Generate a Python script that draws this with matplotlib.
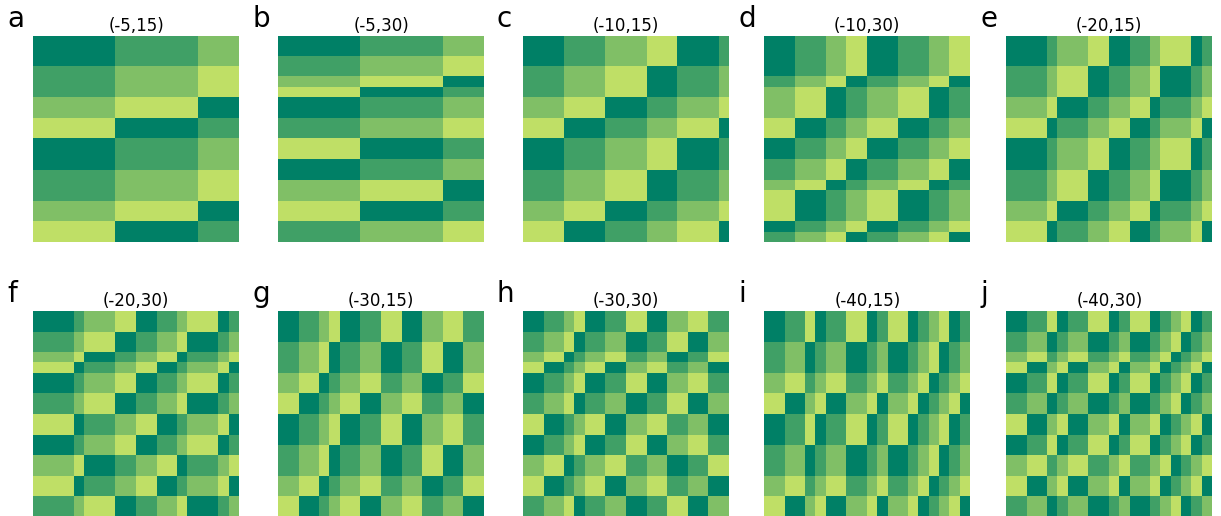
import numpy as np
import matplotlib
matplotlib.use("Agg")
import matplotlib.pyplot as plt
from matplotlib.colors import ListedColormap

# ---- data (20 x 20 coding grid per panel) ----
panel_letters = ["a", "b", "c", "d", "e", "f", "g", "h", "i", "j"]
panel_titles = ["(-5,15)", "(-5,30)", "(-10,15)", "(-10,30)", "(-20,15)",
                "(-20,30)", "(-30,15)", "(-30,30)", "(-40,15)", "(-40,30)"]

# state of each row (top to bottom) and column (left to right); cell = (row + col) mod 4
rows_a = [0, 0, 0, 1, 1, 1, 2, 2, 3, 3, 0, 0, 0, 1, 1, 1, 2, 2, 3, 3]
cols_a = [0, 0, 0, 0, 0, 0, 0, 0, 1, 1, 1, 1, 1, 1, 1, 1, 2, 2, 2, 2]
rows_b = [0, 0, 1, 1, 2, 3, 0, 0, 1, 1, 3, 3, 0, 0, 2, 2, 3, 3, 1, 1]
cols_b = [0, 0, 0, 0, 0, 0, 0, 0, 1, 1, 1, 1, 1, 1, 1, 1, 2, 2, 2, 2]
rows_c = [0, 0, 0, 1, 1, 1, 2, 2, 3, 3, 0, 0, 0, 1, 1, 1, 2, 2, 3, 3]
cols_c = [0, 0, 0, 0, 1, 1, 1, 1, 2, 2, 2, 2, 3, 3, 3, 0, 0, 0, 0, 1]
rows_d = [0, 0, 0, 0, 1, 2, 2, 2, 3, 3, 0, 0, 1, 1, 2, 3, 3, 3, 0, 1]
cols_d = [0, 0, 0, 1, 1, 1, 2, 2, 3, 3, 0, 0, 0, 1, 1, 1, 2, 2, 3, 3]
rows_e = [0, 0, 0, 1, 1, 1, 2, 2, 3, 3, 0, 0, 0, 1, 1, 1, 2, 2, 3, 3]
cols_e = [0, 0, 0, 0, 1, 2, 2, 2, 3, 3, 0, 0, 1, 1, 2, 3, 3, 3, 0, 1]
rows_f = [0, 0, 1, 1, 2, 3, 0, 0, 1, 1, 3, 3, 0, 0, 2, 2, 3, 3, 1, 1]
cols_f = [0, 0, 0, 0, 1, 2, 2, 2, 3, 3, 0, 0, 1, 1, 2, 3, 3, 3, 0, 1]
rows_g = [0, 0, 0, 1, 1, 1, 2, 2, 3, 3, 0, 0, 0, 1, 1, 1, 2, 2, 3, 3]
cols_g = [0, 0, 1, 1, 2, 3, 0, 0, 1, 1, 3, 3, 0, 0, 2, 2, 3, 3, 1, 1]
rows_h = [0, 0, 1, 1, 2, 3, 0, 0, 1, 1, 3, 3, 0, 0, 2, 2, 3, 3, 1, 1]
cols_h = [0, 0, 1, 1, 2, 3, 0, 0, 1, 1, 3, 3, 0, 0, 2, 2, 3, 3, 1, 1]
rows_i = [0, 0, 0, 1, 1, 1, 2, 2, 3, 3, 0, 0, 0, 1, 1, 1, 2, 2, 3, 3]
cols_i = [0, 0, 1, 1, 3, 0, 1, 1, 3, 3, 0, 1, 3, 3, 0, 1, 2, 3, 0, 1]
rows_j = [0, 0, 1, 1, 2, 3, 0, 0, 1, 1, 3, 3, 0, 0, 2, 2, 3, 3, 1, 1]
cols_j = [0, 0, 1, 1, 3, 0, 1, 1, 3, 3, 0, 1, 3, 3, 0, 1, 2, 3, 0, 1]

all_rows = [rows_a, rows_b, rows_c, rows_d, rows_e, rows_f, rows_g, rows_h, rows_i, rows_j]
all_cols = [cols_a, cols_b, cols_c, cols_d, cols_e, cols_f, cols_g, cols_h, cols_i, cols_j]

state_colors = ["#008066", "#40A066", "#80BF66", "#BFDF66"]

# ---- layout (pixels) ----
W, H = 1221, 516
lefts = [33.3, 278.3, 522.5, 764.3, 1006.3]
tops = [36.0, 310.5]
size = 206.0

plt.rcParams["font.family"] = ["DejaVu Sans"]
fig = plt.figure(figsize=(W / 100, H / 100), dpi=100)
cmap = ListedColormap(state_colors)

for k in range(10):
    r, c = divmod(k, 5)
    left, top = lefts[c], tops[r]
    ax = fig.add_axes([left / W, 1 - (top + size) / H, size / W, size / H])
    grid = (np.array(all_rows[k])[:, None] + np.array(all_cols[k])[None, :]) % 4
    ax.imshow(grid, cmap=cmap, vmin=-0.5, vmax=3.5, interpolation="nearest",
              aspect="auto")
    ax.set_axis_off()
    ax.set_title(panel_titles[k], fontsize=12, pad=3.5)
    fig.text((left - 26) / W, 1 - (top - 9) / H, panel_letters[k],
             fontsize=20, ha="left", va="baseline")

fig.savefig("out.png", dpi=100)
